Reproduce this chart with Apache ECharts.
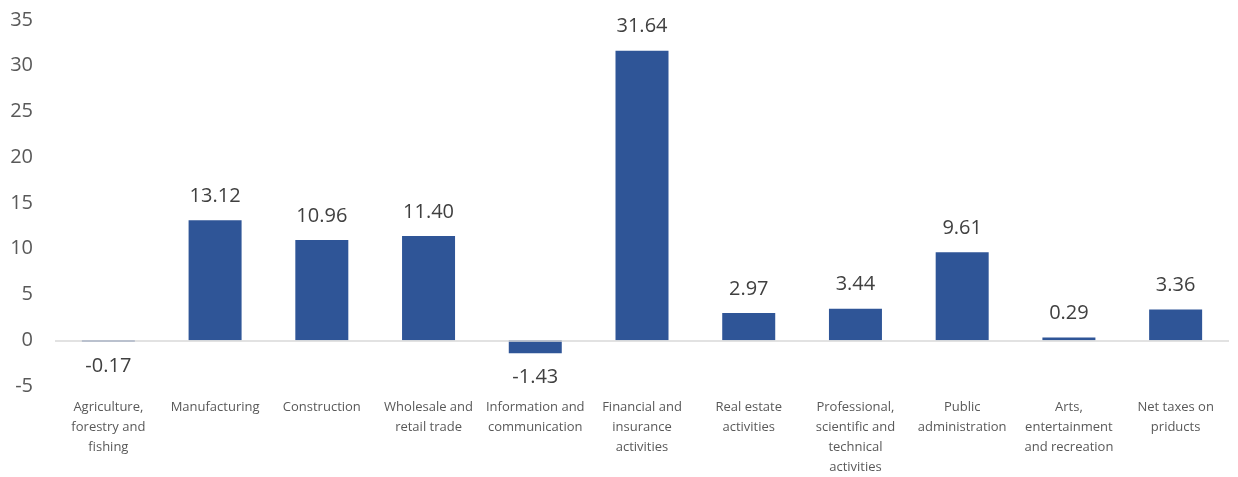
<!DOCTYPE html>
<html>
<head>
<meta charset="utf-8">
<script src="https://cdn.jsdelivr.net/npm/echarts@6/dist/echarts.min.js"></script>
<style>
html,body{margin:0;padding:0;background:#fff;}
#chart{width:1238px;height:477px;}
</style>
</head>
<body>
<div id="chart"></div>
<script>
const categories = [
  "Agriculture,\nforestry and\nfishing",
  "Manufacturing",
  "Construction",
  "Wholesale and\nretail trade",
  "Information and\ncommunication",
  "Financial and\ninsurance\nactivities",
  "Real estate\nactivities",
  "Professional,\nscientific and\ntechnical\nactivities",
  "Public\nadministration",
  "Arts,\nentertainment\nand recreation",
  "Net taxes on\npriducts"
];
const values = [-0.17, 13.12, 10.96, 11.40, -1.43, 31.64, 2.97, 3.44, 9.61, 0.29, 3.36];
const yTicks = [-5, 0, 5, 10, 15, 20, 25, 30, 35];

const chart = echarts.init(document.getElementById('chart'), null, {renderer: 'canvas'});
chart.setOption({
  animation: false,
  grid: {left: 55, right: 9, top: 20, bottom: 81, containLabel: false},
  xAxis: {
    type: 'category',
    data: categories,
    position: 'bottom',
    axisLine: {show: false},
    axisTick: {show: false},
    axisLabel: {
      interval: 0,
      margin: 11,
      color: '#595959',
      fontFamily: 'Open Sans',
      fontSize: 13,
      lineHeight: 20
    }
  },
  yAxis: {
    type: 'value',
    min: yTicks[0],
    max: yTicks[yTicks.length - 1],
    interval: 5,
    axisLine: {show: false},
    axisTick: {show: false},
    splitLine: {show: false},
    axisLabel: {
      margin: 22,
      color: '#595959',
      fontFamily: 'Open Sans',
      fontSize: 20
    }
  },
  series: [{
    type: 'bar',
    data: values.map(v => ({
      value: v,
      label: {position: v < 0 ? 'bottom' : 'top'}
    })),
    barWidth: 53,
    itemStyle: {color: '#2F5597'},
    label: {
      show: true,
      distance: 14,
      color: '#404040',
      fontFamily: 'Open Sans',
      fontSize: 20,
      formatter: p => p.value.toFixed(2)
    },
    markLine: {
      silent: true,
      symbol: 'none',
      z: 10,
      label: {show: false},
      lineStyle: {color: '#d9d9d9', width: 1.5, type: 'solid'},
      data: [{yAxis: 0}]
    }
  }]
});
</script>
</body>
</html>
